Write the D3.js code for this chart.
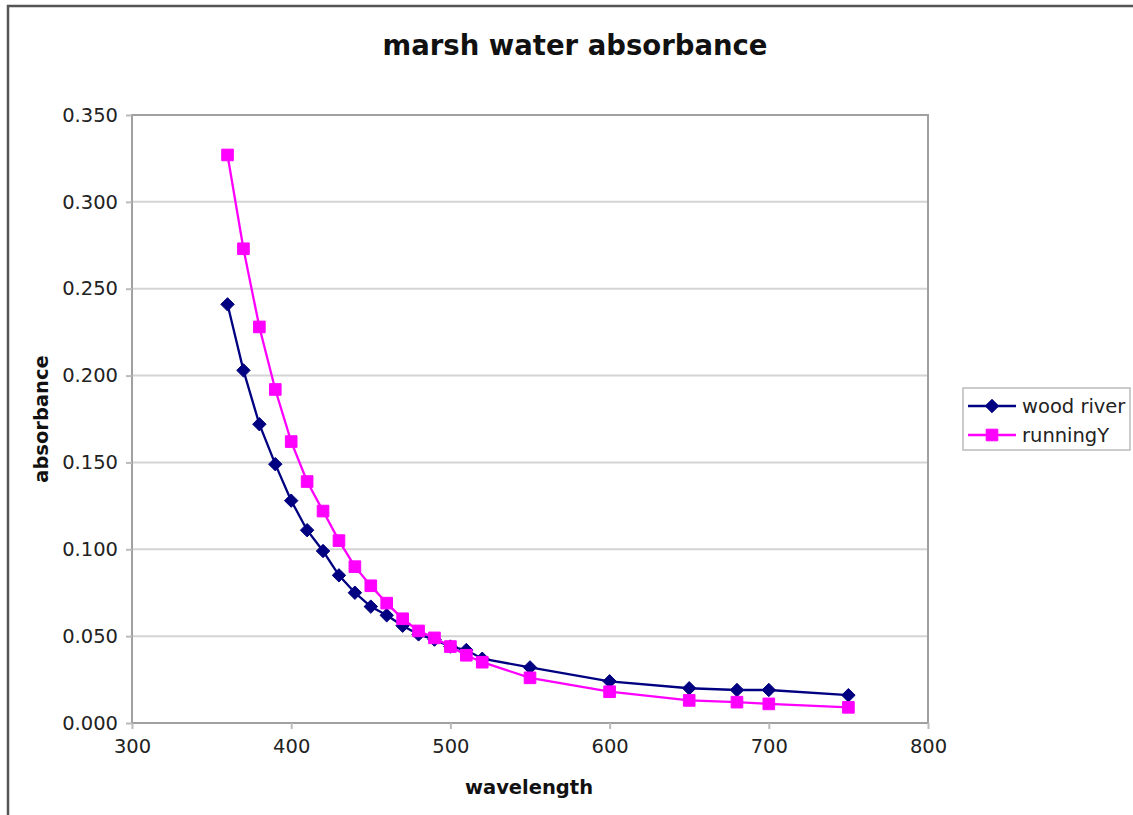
<!DOCTYPE html>
<html>
<head>
<meta charset="utf-8">
<script src="https://cdn.jsdelivr.net/npm/d3@7"></script>
<style>
  body { margin: 0; background: #fff; }
  text { font-family: "DejaVu Sans", Verdana, sans-serif; }
</style>
</head>
<body>
<svg width="1133" height="815"></svg>
<script>
var wavelength = [360, 370, 380, 390, 400, 410, 420, 430, 440, 450, 460, 470, 480, 490, 500, 510, 520, 550, 600, 650, 680, 700, 750];
var woodRiver = [0.241, 0.203, 0.172, 0.149, 0.128, 0.111, 0.099, 0.085, 0.075, 0.067, 0.062, 0.056, 0.051, 0.048, 0.044, 0.042, 0.037, 0.032, 0.024, 0.020, 0.019, 0.019, 0.016];
var runningY = [0.327, 0.273, 0.228, 0.192, 0.162, 0.139, 0.122, 0.105, 0.090, 0.079, 0.069, 0.060, 0.053, 0.049, 0.044, 0.039, 0.035, 0.026, 0.018, 0.013, 0.012, 0.011, 0.009];
var xTicks = [300, 400, 500, 600, 700, 800];
var yTicks = [0, 0.05, 0.1, 0.15, 0.2, 0.25, 0.3, 0.35];

var series = [
  { name: "wood river", values: woodRiver, color: "#000080", marker: "diamond" },
  { name: "runningY", values: runningY, color: "#ff00ff", marker: "square" }
];

var svg = d3.select("svg");

// outer chart frame (right and bottom edges run off the picture)
svg.append("path")
  .attr("d", "M8,815 L8,6 L1133,6")
  .attr("fill", "none")
  .attr("stroke", "#555")
  .attr("stroke-width", 2.5);

var margin = { top: 115, left: 132 },
    width = 928 - 132,
    height = 723 - 115;
var g = svg.append("g").attr("transform", "translate(" + margin.left + "," + margin.top + ")");

var x = d3.scaleLinear().domain([300, 800]).range([0, width]);
var y = d3.scaleLinear().domain([0, 0.35]).range([height, 0]);

// gridlines
g.append("g")
  .selectAll("line")
  .data(yTicks.slice(1))
  .enter().append("line")
  .attr("x1", 0).attr("x2", width)
  .attr("y1", function (d) { return y(d); })
  .attr("y2", function (d) { return y(d); })
  .attr("stroke", "#d4d4d4")
  .attr("stroke-width", 2);

// plot border
g.append("rect")
  .attr("width", width).attr("height", height)
  .attr("fill", "none")
  .attr("stroke", "#a0a0a0")
  .attr("stroke-width", 2);

// axes
var yAxis = g.append("g")
  .call(d3.axisLeft(y).tickValues(yTicks).tickFormat(d3.format(".3f")).tickSize(6).tickPadding(8));
var xAxis = g.append("g")
  .attr("transform", "translate(0," + height + ")")
  .call(d3.axisBottom(x).tickValues(xTicks).tickSize(6).tickPadding(10));
[xAxis, yAxis].forEach(function (a) {
  a.select(".domain").remove();
  a.selectAll(".tick line").attr("stroke", "#bbb").attr("stroke-width", 2);
  a.selectAll(".tick text").attr("font-size", 19.5).attr("fill", "#222")
    .attr("font-family", "DejaVu Sans, Verdana, sans-serif");
});

// title & axis labels
svg.append("text")
  .attr("x", 575).attr("y", 55)
  .attr("text-anchor", "middle")
  .attr("font-size", 27.5).attr("font-weight", "bold")
  .attr("fill", "#111")
  .text("marsh water absorbance");

svg.append("text")
  .attr("x", 529).attr("y", 794)
  .attr("text-anchor", "middle")
  .attr("font-size", 19.5).attr("font-weight", "bold")
  .attr("fill", "#111")
  .text("wavelength");

svg.append("text")
  .attr("transform", "translate(48,419) rotate(-90)")
  .attr("text-anchor", "middle")
  .attr("font-size", 19.5).attr("font-weight", "bold")
  .attr("fill", "#111")
  .text("absorbance");

var line = d3.line()
  .x(function (d) { return x(d[0]); })
  .y(function (d) { return y(d[1]); });

var diamond = d3.symbol().type(d3.symbolDiamond2).size(115);
var square = d3.symbol().type(d3.symbolSquare).size(135);

function drawMarker(sel, s) {
  return sel.append("path")
    .attr("d", s.marker === "diamond" ? diamond() : square())
    .attr("fill", s.color)
    .attr("stroke", s.color)
    .attr("stroke-width", 1);
}

series.forEach(function (s) {
  var pts = wavelength.map(function (w, i) { return [w, s.values[i]]; });
  g.append("path")
    .datum(pts)
    .attr("fill", "none")
    .attr("stroke", s.color)
    .attr("stroke-width", 2.3)
    .attr("d", line);
  pts.forEach(function (p) {
    drawMarker(g.append("g").attr("transform", "translate(" + x(p[0]) + "," + y(p[1]) + ")"), s);
  });
});

// legend
var legend = svg.append("g").attr("transform", "translate(963,388)");
legend.append("rect")
  .attr("width", 167).attr("height", 62)
  .attr("fill", "#fff")
  .attr("stroke", "#bbb")
  .attr("stroke-width", 1.5);
series.forEach(function (s, i) {
  var row = legend.append("g").attr("transform", "translate(0," + (18 + i * 29) + ")");
  row.append("line")
    .attr("x1", 5).attr("x2", 53)
    .attr("stroke", s.color).attr("stroke-width", 2.3);
  drawMarker(row.append("g").attr("transform", "translate(29,0)"), s);
  row.append("text")
    .attr("x", 59).attr("y", 7)
    .attr("font-size", 19.5)
    .attr("fill", "#222")
    .text(s.name);
});
</script>
</body>
</html>
